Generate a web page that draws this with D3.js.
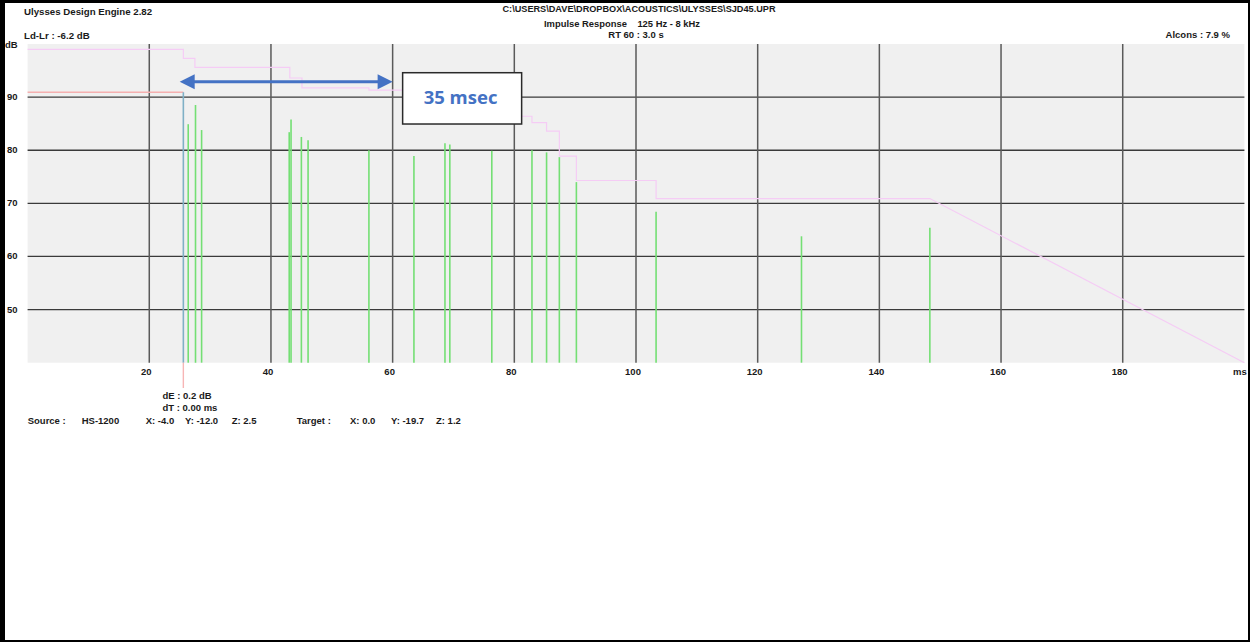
<!DOCTYPE html>
<html>
<head>
<meta charset="utf-8">
<script src="https://cdn.jsdelivr.net/npm/d3@7"></script>
<style>
  html, body { margin: 0; padding: 0; background: #fff; }
  svg text { font-family: "Liberation Sans", Arial, sans-serif; font-weight: bold; fill: #1a1a1a; white-space: pre; }
</style>
</head>
<body>
<svg id="chart" width="1250" height="642"></svg>
<script>
// ---------- data ----------
const xTicks = [20, 40, 60, 80, 100, 120, 140, 160, 180];
const yTicks = [50, 60, 70, 80, 90];
const xDomain = [0, 200];
const yDomain = [40, 100];

// direct sound
const directTime = 25.6;
const directLevel = 90.9;

// reflections (ms, dB)
const reflTimes  = [26.4, 27.6, 28.6, 43.0, 43.3, 45.0, 46.1, 56.1, 63.5, 68.6, 69.4, 76.3, 82.9, 85.3, 87.4, 90.2, 103.3, 127.2, 148.3];
const reflLevels = [84.9, 88.5, 83.8, 83.4, 85.8, 82.5, 81.9, 80.0, 78.9, 81.3, 81.1, 79.9, 80.0, 79.6, 78.7, 74.0, 68.4, 63.8, 65.4];

// cumulative (pink) stepped curve: step start times and levels
const stepTimes  = [0, 25.6, 27.5, 43.1, 45.1, 56.1, 78.0, 82.9, 85.3, 87.4, 90.2, 103.3];
const stepLevels = [99.0, 97.3, 95.6, 93.6, 91.75, 91.3, 86.4, 85.2, 83.6, 78.9, 74.3, 70.9];
const decayStart = 148.3;
const decayEnd = [200, 40];

// annotation
const arrowTimes = [25, 60];
const arrowLevel = 92.9;
const arrowLabel = "35 msec";

// texts
const title = "Ulysses Design Engine 2.82";
const filePath = "C:\\USERS\\DAVE\\DROPBOX\\ACOUSTICS\\ULYSSES\\SJD45.UPR";
const subtitle = "Impulse Response    125 Hz - 8 kHz";
const rt60 = "RT 60 : 3.0 s";
const ldlr = "Ld-Lr : -6.2 dB";
const alcons = "Alcons : 7.9 %";
const cursorTexts = ["dE : 0.2 dB", "dT : 0.00 ms"];
const infoLabels = ["Source :", "HS-1200", "X: -4.0", "Y: -12.0", "Z: 2.5", "Target :", "X: 0.0", "Y: -19.7", "Z: 1.2"];
const infoX = [27.7, 81.7, 145.7, 185, 231.7, 296.7, 350, 391, 436];

// ---------- drawing ----------
const svg = d3.select("#chart");
const x = d3.scaleLinear().domain(xDomain).range([27.6, 1244.4]);
const y = d3.scaleLinear().domain(yDomain).range([362.7, 44]);

// plot background
svg.append("rect")
  .attr("x", x(xDomain[0])).attr("y", y(yDomain[1]))
  .attr("width", x(xDomain[1]) - x(xDomain[0]))
  .attr("height", y(yDomain[0]) - y(yDomain[1]))
  .attr("fill", "#f0f0f0");

// grid
svg.append("g").selectAll("line").data(yTicks).join("line")
  .attr("x1", x(0)).attr("x2", x(200))
  .attr("y1", d => y(d)).attr("y2", d => y(d))
  .attr("stroke", "#3a3a3a").attr("stroke-width", 1.3);
svg.append("g").selectAll("line").data(xTicks).join("line")
  .attr("x1", d => x(d)).attr("x2", d => x(d))
  .attr("y1", y(100)).attr("y2", y(40))
  .attr("stroke", "#5a5a5a").attr("stroke-width", 1.5);

// tick labels
svg.append("g").selectAll("text").data(yTicks).join("text")
  .attr("x", 7).attr("y", d => y(d) + 3)
  .attr("font-size", 9.5).text(d => d);
svg.append("text").attr("x", 5).attr("y", 48).attr("font-size", 9.5).text("dB");
svg.append("g").selectAll("text").data(xTicks).join("text")
  .attr("x", d => x(d) - 3).attr("y", 375)
  .attr("text-anchor", "middle").attr("font-size", 9.5).text(d => d);
svg.append("text").attr("x", 1233).attr("y", 375).attr("font-size", 9.5).text("ms");

// pink cumulative curve
const pinkPts = [];
stepTimes.forEach((t, i) => {
  if (i > 0) pinkPts.push([t, stepLevels[i - 1]]);
  pinkPts.push([t, stepLevels[i]]);
});
pinkPts.push([decayStart, stepLevels[stepLevels.length - 1]]);
pinkPts.push(decayEnd);
svg.append("path")
  .attr("d", d3.line().x(d => x(d[0])).y(d => y(d[1]))(pinkPts))
  .attr("fill", "none").attr("stroke", "#f5ccf5").attr("stroke-width", 1.2);

// red level line before direct sound
svg.append("line")
  .attr("x1", x(0)).attr("x2", x(directTime))
  .attr("y1", y(directLevel)).attr("y2", y(directLevel))
  .attr("stroke", "#f5b0b0").attr("stroke-width", 1.5);

// reflections
svg.append("g").selectAll("line").data(reflTimes).join("line")
  .attr("x1", d => x(d)).attr("x2", d => x(d))
  .attr("y1", y(40)).attr("y2", (d, i) => y(reflLevels[i]))
  .attr("stroke", "#74df74").attr("stroke-width", 1.6);

// direct sound
svg.append("line")
  .attr("x1", x(directTime)).attr("x2", x(directTime))
  .attr("y1", y(40)).attr("y2", y(directLevel))
  .attr("stroke", "#7fb0c6").attr("stroke-width", 1.6);

// cursor marker below axis
svg.append("line")
  .attr("x1", x(directTime)).attr("x2", x(directTime))
  .attr("y1", y(40)).attr("y2", 388)
  .attr("stroke", "#f7b5b5").attr("stroke-width", 1.4);
svg.append("g").selectAll("text").data(cursorTexts).join("text")
  .attr("x", 162.5).attr("y", (d, i) => 398.5 + i * 12.5)
  .attr("font-size", 9.5).text(d => d);

// source/target info
svg.append("g").selectAll("text").data(infoLabels).join("text")
  .attr("x", (d, i) => infoX[i]).attr("y", 424)
  .attr("font-size", 9.5).text(d => d);

// header texts
svg.append("text").attr("x", 24).attr("y", 14.5).attr("font-size", 9.7).text(title);
svg.append("text").attr("x", 24).attr("y", 38.5).attr("font-size", 9.7).text(ldlr);
svg.append("text").attr("x", 639).attr("y", 11.7).attr("text-anchor", "middle")
  .attr("font-size", 9.3).attr("textLength", 273).attr("lengthAdjust", "spacingAndGlyphs").text(filePath);
svg.append("text").attr("x", 622).attr("y", 26.5).attr("text-anchor", "middle")
  .attr("font-size", 9.5).attr("textLength", 156).attr("lengthAdjust", "spacingAndGlyphs").text(subtitle);
svg.append("text").attr("x", 636).attr("y", 37.5).attr("text-anchor", "middle")
  .attr("font-size", 9.5).text(rt60);
svg.append("text").attr("x", 1230).attr("y", 37.5).attr("text-anchor", "end")
  .attr("font-size", 9.5).text(alcons);

// annotation arrow
const ax1 = x(arrowTimes[0]), ax2 = x(arrowTimes[1]), ay = y(arrowLevel);
const headL = 15, headW = 7.5, blue = "#4472c4";
svg.append("line").attr("x1", ax1 + headL - 1).attr("x2", ax2 - headL + 1)
  .attr("y1", ay).attr("y2", ay).attr("stroke", blue).attr("stroke-width", 3);
svg.append("path").attr("fill", blue)
  .attr("d", `M${ax1},${ay} L${ax1 + headL},${ay - headW} L${ax1 + headL},${ay + headW} Z`);
svg.append("path").attr("fill", blue)
  .attr("d", `M${ax2},${ay} L${ax2 - headL},${ay - headW} L${ax2 - headL},${ay + headW} Z`);

// annotation box
const bx = ax2 + 10, by = ay - 9, bw = 119, bh = 51.3;
svg.append("rect").attr("x", bx).attr("y", by).attr("width", bw).attr("height", bh)
  .attr("fill", "#fff").attr("stroke", "#2a2a2a").attr("stroke-width", 1.5);
svg.append("text").attr("x", bx + 21).attr("y", by + 31)
  .attr("font-size", 18.5).attr("font-weight", "bold")
  .style("font-family", "'Open Sans', 'Noto Sans', sans-serif")
  .style("fill", blue).text(arrowLabel);

// window frame
svg.append("rect").attr("x", 0).attr("y", 0).attr("width", 5).attr("height", 642).attr("fill", "#000");
svg.append("rect").attr("x", 0).attr("y", 0).attr("width", 1250).attr("height", 3).attr("fill", "#000");
svg.append("rect").attr("x", 0).attr("y", 640).attr("width", 1250).attr("height", 2).attr("fill", "#000");
svg.append("rect").attr("x", 1248).attr("y", 0).attr("width", 2).attr("height", 642).attr("fill", "#000");
</script>
</body>
</html>
